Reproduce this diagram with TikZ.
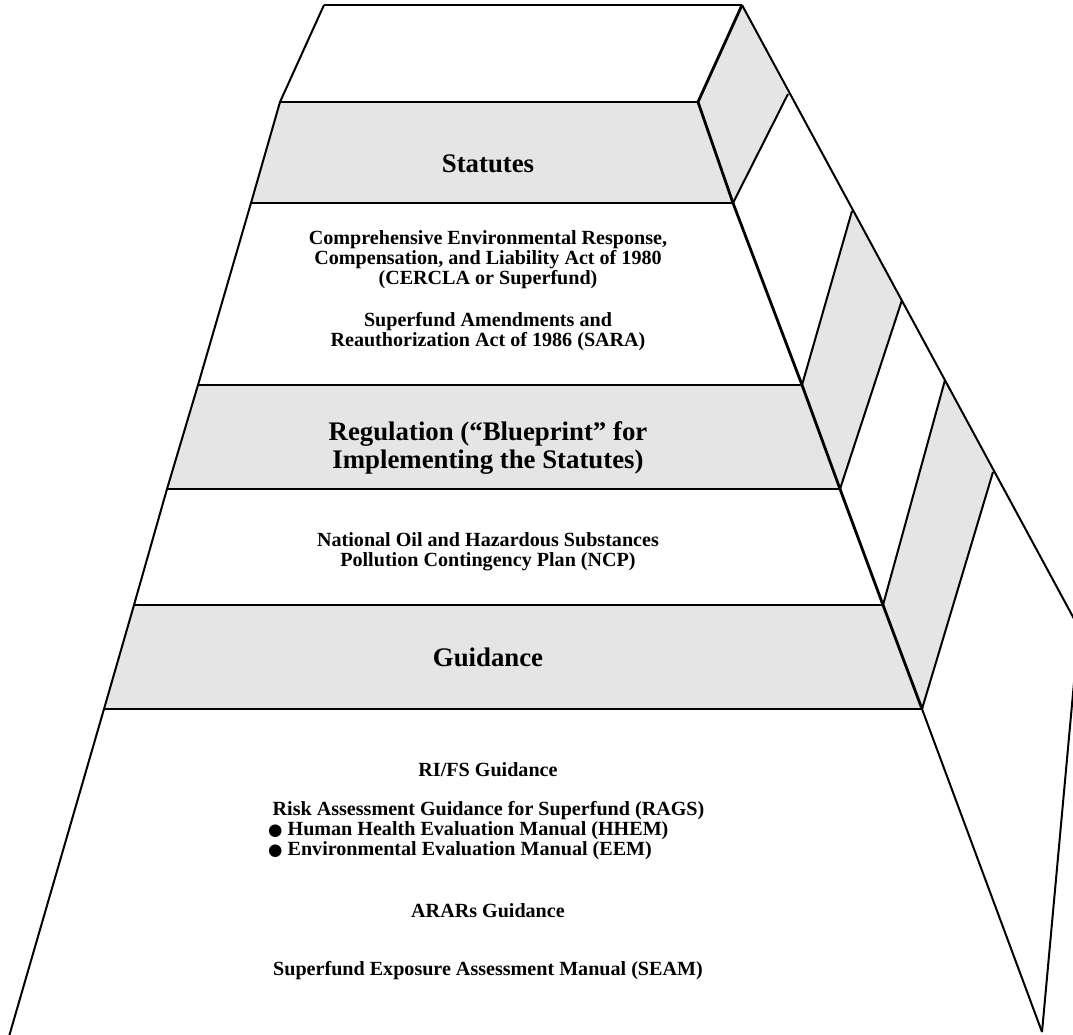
\documentclass[tikz,border=0pt]{standalone}
\usepackage{fontspec}
\setmainfont{Liberation Serif}
\newfontfamily\dotfont{DejaVu Sans}
\usepackage{tikz}

\definecolor{bandgray}{gray}{0.9}

\newcommand{\headfont}{\bfseries\fontsize{26.8}{28}\selectfont}
\newcommand{\bodyfont}{\bfseries\fontsize{20.1}{20}\selectfont}
\newcommand{\blackdot}{{\dotfont\fontsize{16.5}{20}\selectfont ●}}

\begin{document}
\begin{tikzpicture}[x=1pt,y=-1pt,
    front/.style={line width=2.8pt},
    edge/.style={line width=2pt},
    head/.style={font=\headfont,inner sep=0pt,align=center},
    body/.style={font=\bodyfont,inner sep=0pt,align=center}]
\useasboundingbox (0,0) rectangle (1073,1034);
\clip (0,0) rectangle (1073,1034);

% corners of the front face, level by level
\foreach \n/\y/\l/\r in {0/102/280/698, 1/203/251/733, 2/385/198/802,
                         3/489/167/840, 4/605/134/883, 5/709/104/922}{
    \coordinate (l\n) at (\l,\y);
    \coordinate (r\n) at (\r,\y);
}
\coordinate (l6) at (8,1040);
\coordinate (r6) at (1042,1032);
\coordinate (t0) at (324,5);

% back edge of the side face
\foreach \n/\x/\y in {0/742/5, 1/788/94, 2/852/211, 3/902/300,
                      4/945/380, 5/993/472, 6/1079/628}
    \coordinate (b\n) at (\x,\y);

% gray bands, front and side
\foreach \a/\b in {0/1, 2/3, 4/5}{
    \fill[bandgray] (l\a) -- (r\a) -- (r\b) -- (l\b) -- cycle;
    \fill[bandgray] (r\a) -- (b\a) -- (b\b) -- (r\b) -- cycle;
}

% outline
\draw[edge] (t0) -- (l0) -- (l1) -- (l2) -- (l3) -- (l4) -- (l5) -- (l6);
\draw[edge] (b0) -- (b6) -- (r6);
\draw[front] (b0) -- (r0) -- (r1) -- (r2) -- (r3) -- (r4) -- (r5);
\draw[edge] (r5) -- (r6);
\draw[front] (t0) -- (b0);
\foreach \n in {0,...,5}
    \draw[front] (l\n) -- (r\n);
\foreach \n in {1,...,5}
    \draw[edge] (b\n) -- (r\n);

% texts
\node[head,anchor=base] (statutes) at (488,172) {Statutes};
\node[body] (cercla) at (488,259.6) {Comprehensive Environmental Response,\\
    Compensation, and Liability Act of 1980\\(CERCLA or Superfund)};
\node[body] (sara) at (488,331.7) {Superfund Amendments and\\
    Reauthorization Act of 1986 (SARA)};
\node[head] (regulation) at (488,448) {Regulation (“Blueprint” for\\
    Implementing the Statutes)};
\node[body] (ncp) at (488,552.2) {National Oil and Hazardous Substances\\
    Pollution Contingency Plan (NCP)};
\node[head,anchor=base] (guidance) at (488,666) {Guidance};
\node[body,anchor=base] (rifs) at (488,776) {RI/FS Guidance};
\node[body,align=left,anchor=west] (rags) at (268,830.2)
    {\hspace{4.5pt}Risk Assessment Guidance for Superfund (RAGS)\\
    \blackdot\ Human Health Evaluation Manual (HHEM)\\
    \blackdot\ Environmental Evaluation Manual (EEM)};
\node[body,anchor=base] (arars) at (488,917) {ARARs Guidance};
\node[body,anchor=base] (seam) at (488,975) {Superfund Exposure Assessment Manual (SEAM)};
\end{tikzpicture}
\end{document}
